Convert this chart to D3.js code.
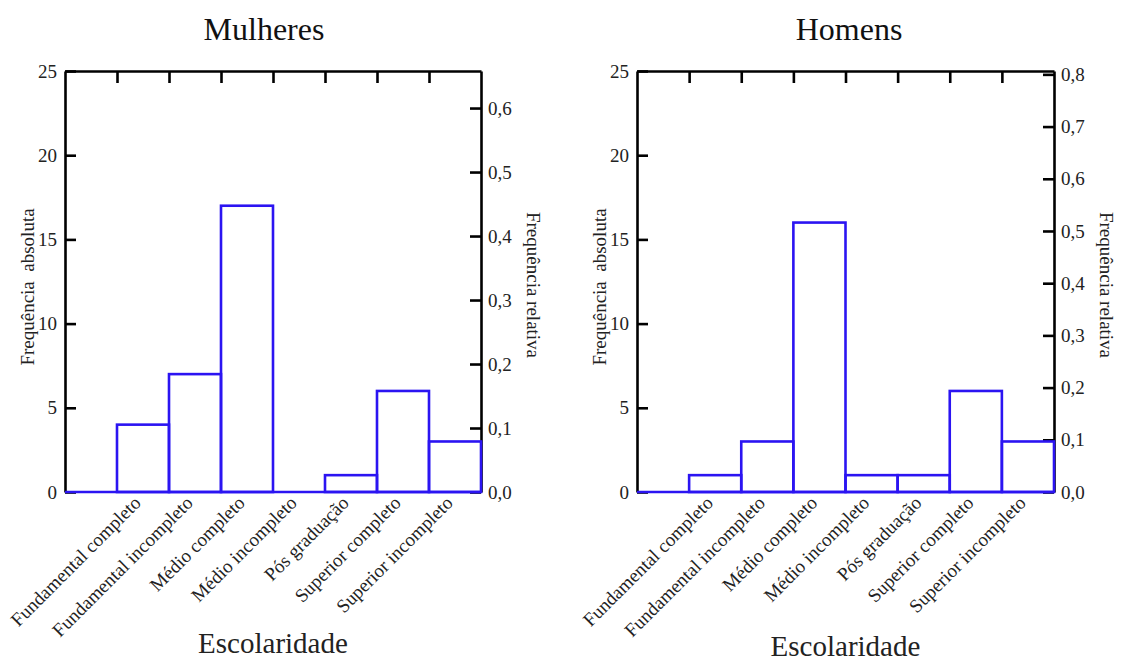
<!DOCTYPE html>
<html>
<head>
<meta charset="utf-8">
<script src="https://cdn.jsdelivr.net/npm/d3@7"></script>
<style>
  html, body { margin: 0; padding: 0; background: #fff; }
  svg { display: block; font-family: "Liberation Serif", "DejaVu Serif", serif; }
</style>
</head>
<body>
<svg id="chart" width="1121" height="661"></svg>
<script>
// Escolaridade por sexo: frequência absoluta (eixo esquerdo) e relativa (eixo direito)
const categorias = [
  "Fundamental completo",
  "Fundamental incompleto",
  "Médio completo",
  "Médio incompleto",
  "Pós graduação",
  "Superior completo",
  "Superior incompleto"
];
const mulheres = [4, 7, 17, 0, 1, 6, 3];
const homens   = [1, 3, 16, 1, 1, 6, 3];

const ticksAbsolutos = [0, 5, 10, 15, 20, 25];
const ticksRelMulheres = [0, 0.1, 0.2, 0.3, 0.4, 0.5, 0.6];
const ticksRelHomens   = [0, 0.1, 0.2, 0.3, 0.4, 0.5, 0.6, 0.7, 0.8];

const titulos = ["Mulheres", "Homens"];

const svg = d3.select("#chart");
const azul = "#2b14f2";
const fmtRel = v => d3.format(".1f")(v).replace(".", ",");

const paineis = [
  { titulo: titulos[0], valores: mulheres, ticksRel: ticksRelMulheres, x0: 65,  x1: 481, tituloX: 264, eixoXY: 653 },
  { titulo: titulos[1], valores: homens,   ticksRel: ticksRelHomens,   x0: 637, x1: 1054, tituloX: 849, eixoXY: 656 }
];
const plotTop = 71, plotBottom = 492;
const absMax = 25;
const fonteTicks = 19;

paineis.forEach(p => {
  const g = svg.append("g");
  const total = d3.sum(p.valores);

  // one empty slot before the categories, then one slot per category
  const x = d3.scaleLinear().domain([0, categorias.length + 1]).range([p.x0, p.x1]);
  const y = d3.scaleLinear().domain([0, absMax]).range([plotBottom, plotTop]);
  const yRel = d3.scaleLinear().domain([0, absMax / total]).range([plotBottom, plotTop]);

  const estiloEixo = sel => {
    sel.selectAll("path.domain").attr("stroke", "#000").attr("stroke-width", 2.6);
    sel.selectAll(".tick line").attr("stroke", "#000").attr("stroke-width", 2.6);
    sel.selectAll(".tick text").attr("font-family", "Liberation Serif").attr("font-size", fonteTicks).attr("fill", "#222");
  };

  // left axis: absolute frequency
  g.append("g").attr("transform", `translate(${p.x0},0)`)
    .call(d3.axisLeft(y).tickValues(ticksAbsolutos).tickSizeInner(-11).tickSizeOuter(0).tickPadding(8))
    .call(estiloEixo);

  // right axis: relative frequency
  g.append("g").attr("transform", `translate(${p.x1},0)`)
    .call(d3.axisRight(yRel).tickValues(p.ticksRel).tickFormat(fmtRel).tickSizeInner(-11).tickSizeOuter(0).tickPadding(7))
    .call(estiloEixo);

  // top frame with ticks at the bin edges
  g.append("g").attr("transform", `translate(0,${plotTop})`)
    .call(d3.axisTop(x).tickValues(d3.range(1, categorias.length + 1)).tickFormat("").tickSizeInner(-12).tickSizeOuter(0))
    .call(estiloEixo);

  // baseline across the whole width
  g.append("line")
    .attr("x1", x(0)).attr("x2", x(categorias.length + 1))
    .attr("y1", y(0)).attr("y2", y(0))
    .attr("stroke", azul).attr("stroke-width", 2.6);

  // histogram bars (outlined)
  g.selectAll("rect.barra").data(p.valores).join("rect")
    .attr("class", "barra")
    .attr("x", (d, i) => x(i + 1))
    .attr("width", x(1) - x(0))
    .attr("y", d => y(d))
    .attr("height", d => y(0) - y(d))
    .attr("fill", "none")
    .attr("stroke", azul)
    .attr("stroke-width", 2.6);

  // rotated category labels
  g.selectAll("text.cat").data(categorias).join("text")
    .attr("class", "cat")
    .attr("transform", (d, i) => `translate(${x(i + 1.5) - 1},${plotBottom + 12}) rotate(-45)`)
    .attr("text-anchor", "end")
    .attr("font-size", fonteTicks)
    .attr("fill", "#222")
    .text(d => d);

  // panel title
  g.append("text")
    .attr("x", p.tituloX).attr("y", 40)
    .attr("text-anchor", "middle")
    .attr("font-size", 32)
    .attr("fill", "#111")
    .text(p.titulo);

  // x-axis title
  g.append("text")
    .attr("x", (p.x0 + p.x1) / 2).attr("y", p.eixoXY)
    .attr("text-anchor", "middle")
    .attr("font-size", 29)
    .attr("fill", "#222")
    .text("Escolaridade");

  // left axis title (double space kept)
  g.append("text")
    .attr("transform", `translate(${p.x0 - 31},287) rotate(-90)`)
    .attr("text-anchor", "middle")
    .attr("font-size", fonteTicks)
    .attr("fill", "#222")
    .style("white-space", "pre")
    .text("Frequência  absoluta");

  // right axis title
  g.append("text")
    .attr("transform", `translate(${p.x1 + 46},285) rotate(90)`)
    .attr("text-anchor", "middle")
    .attr("font-size", fonteTicks)
    .attr("fill", "#222")
    .text("Frequência relativa");
});
</script>
</body>
</html>
